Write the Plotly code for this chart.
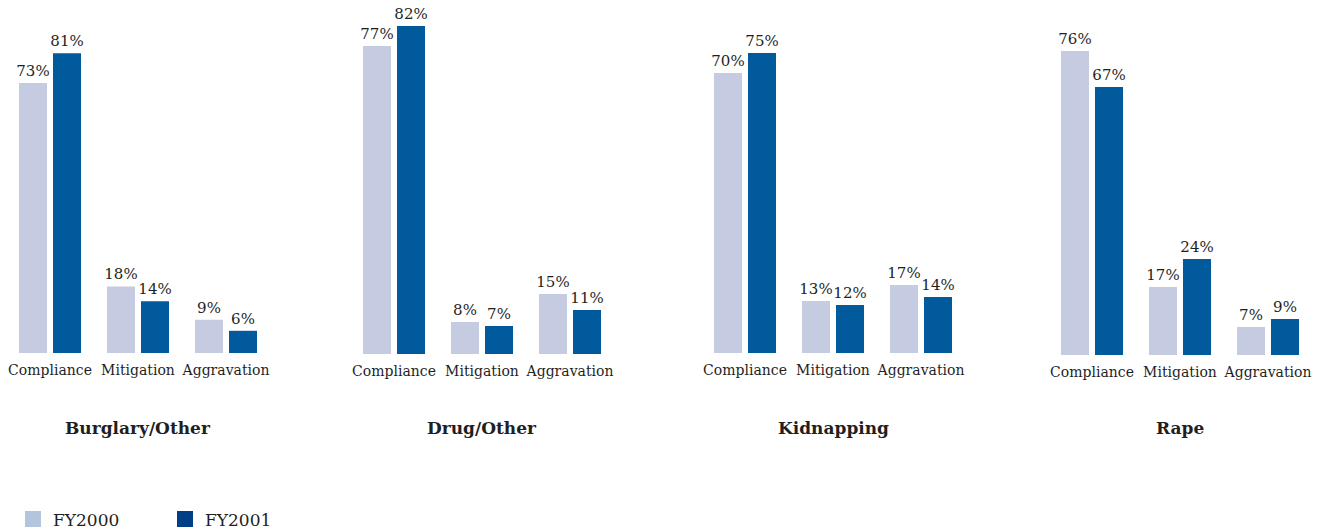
import plotly.graph_objects as go

W, H = 1318, 529

categories = ["Compliance", "Mitigation", "Aggravation"]
panels = ["Burglary/Other", "Drug/Other", "Kidnapping", "Rape"]
fy2000 = [[73, 18, 9], [77, 8, 15], [70, 13, 17], [76, 17, 7]]
fy2001 = [[81, 14, 6], [82, 7, 11], [75, 12, 14], [67, 24, 9]]
series_names = ["FY2000", "FY2001"]

bar_colors = ["#c5cbe0", "#005a9c"]
legend_colors = ["#b3c5dc", "#003e86"]
FONT = "DejaVu Serif"
TXT = "#1f1f1f"

# layout in pixels
x_left = [6, 350, 701, 1048]
panel_w = 264
baseline = [353, 354, 353, 355]
px_per_pct = [3.7, 4.0, 4.0, 4.0]

fig = go.Figure()
layout = dict(
    width=W, height=H,
    margin=dict(l=0, r=0, t=0, b=0),
    paper_bgcolor="white", plot_bgcolor="white",
    barmode="group", bargap=0.227, bargroupgap=0.176,
    showlegend=False,
    font=dict(family=FONT, color=TXT),
    annotations=[], shapes=[],
)

for i, name in enumerate(panels):
    sfx = "" if i == 0 else str(i + 1)
    for s, vals in enumerate([fy2000[i], fy2001[i]]):
        fig.add_trace(go.Bar(
            x=categories, y=vals, name=series_names[s],
            xaxis="x" + sfx, yaxis="y" + sfx,
            marker=dict(color=bar_colors[s], line=dict(width=0)),
            text=[f"{v}%" for v in vals],
            textposition="outside",
            constraintext="none",
            cliponaxis=False,
            textfont=dict(family=FONT, size=15, color=TXT),
            showlegend=False,
            hoverinfo="skip",
            offsetgroup=str(s),
        ))
    d0 = x_left[i] / W
    d1 = (x_left[i] + panel_w) / W
    ybot = (H - baseline[i]) / H
    rng = baseline[i] / px_per_pct[i]
    layout["xaxis" + sfx] = dict(
        domain=[d0, d1], anchor="y" + sfx, type="category",
        range=[-0.5, 2.5], showgrid=False, zeroline=False, showline=False,
        ticks="outside", ticklen=4, tickcolor="rgba(0,0,0,0)",
        tickfont=dict(family=FONT, size=14, color=TXT),
        fixedrange=True,
    )
    layout["yaxis" + sfx] = dict(
        domain=[ybot, 1], anchor="x" + sfx, range=[0, rng],
        visible=False, showgrid=False, zeroline=False, fixedrange=True,
    )
    layout["annotations"].append(dict(
        text=f"<b>{name}</b>", xref=f"x{sfx} domain", x=0.5,
        yref="paper", y=(H - 428) / H, xanchor="center", yanchor="middle",
        showarrow=False, font=dict(family=FONT, size=17, color=TXT),
    ))

# manual legend (swatch + label)
leg_x = [25, 177]
for s, nm in enumerate(series_names):
    x0 = leg_x[s]
    layout["shapes"].append(dict(
        type="rect", xref="paper", yref="paper",
        x0=x0 / W, x1=(x0 + 16) / W, y0=(H - 527) / H, y1=(H - 511) / H,
        fillcolor=legend_colors[s], line=dict(width=0), layer="above",
    ))
    layout["annotations"].append(dict(
        text=nm, xref="paper", yref="paper",
        x=(x0 + 26) / W, y=(H - 520) / H, xanchor="left", yanchor="middle",
        showarrow=False, font=dict(family=FONT, size=17, color=TXT),
    ))

fig.update_layout(**layout)
fig.write_html("out.html")
